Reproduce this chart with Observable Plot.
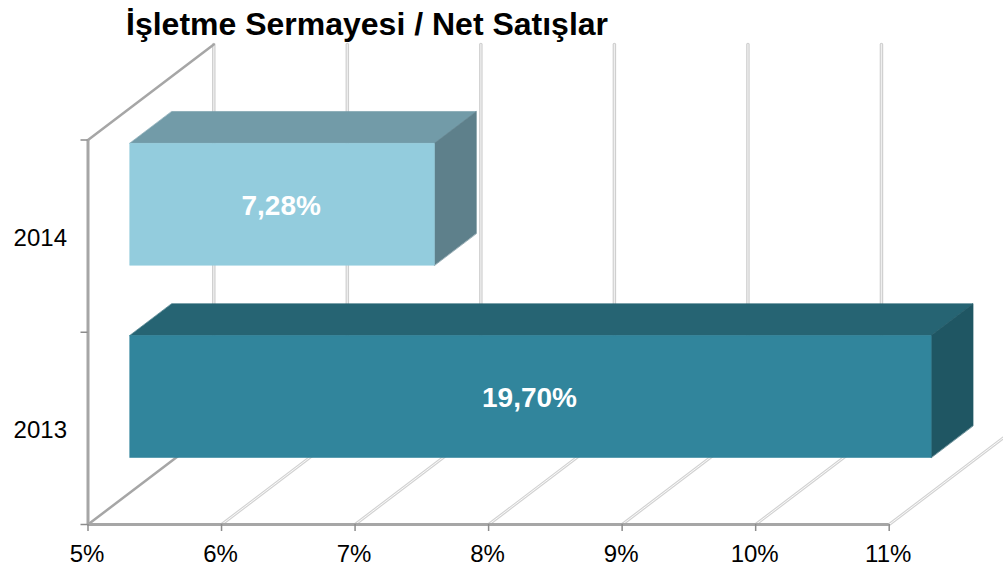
<!DOCTYPE html>
<html>
<head>
<meta charset="utf-8">
<script src="https://cdn.jsdelivr.net/npm/d3@7"></script>
<script src="https://cdn.jsdelivr.net/npm/@observablehq/plot@0.6"></script>
<style>
html,body{margin:0;padding:0;background:#fff;overflow:hidden}
#title{height:40px;box-sizing:border-box;padding:5px 0 0 126px;font:bold 32px "Liberation Sans",Arial,sans-serif;color:#000;line-height:40px;white-space:nowrap}
#title span{position:relative;top:-1px}
svg{display:block}
</style>
</head>
<body>
<div id="title"><span></span></div>
<div id="chart"></div>
<script>
const titleText = "İşletme Sermayesi / Net Satışlar";
const years = ["2013", "2014"];
const values = [19.70, 7.28];
const xTicks = [5, 6, 7, 8, 9, 10, 11];
const frontColors = ["#31859c", "#93ccdd"];
const topColors = ["#266473", "#729ba8"];
const sideColors = ["#1f5663", "#5e808b"];

const xMin = 5, xMax = 11, yCount = years.length;
const depthX = 0.942, depthY = 0.497;     // floor depth expressed in scale units
const barPad = 0.183, nearD = 1 / 3, farD = 2 / 3;
const px = (v, d) => v + d * depthX;
const py = (l, d) => l + d * depthY;

document.querySelector("#title span").textContent = titleText;

const faces = [];
years.forEach((yr, i) => {
  const shown = Math.min(values[i], xMax);
  const l0 = i + barPad, l1 = i + 1 - barPad;
  const add = (face, color, pts) => pts.forEach(([v, l, d]) =>
    faces.push({key: yr + face, color, x: px(v, d), y: py(l, d)}));
  add("top", topColors[i], [[xMin, l1, nearD], [shown, l1, nearD], [shown, l1, farD], [xMin, l1, farD]]);
  add("side", sideColors[i], [[shown, l0, nearD], [shown, l1, nearD], [shown, l1, farD], [shown, l0, farD]]);
  add("front", frontColors[i], [[xMin, l0, nearD], [shown, l0, nearD], [shown, l1, nearD], [xMin, l1, nearD]]);
});
const labels = years.map((yr, i) => ({
  text: values[i].toFixed(2).replace(".", ",") + "%",
  x: px((xMin + Math.min(values[i], xMax)) / 2, nearD),
  y: py(i + 0.5, nearD)
}));

// grid segments
const floor = xTicks.flatMap(v => [{k: v, x: px(v, 0), y: 0}, {k: v, x: px(v, 1), y: py(0, 1)}]);
const back = xTicks.flatMap(v => [{k: v, x: px(v, 1), y: py(0, 1)}, {k: v, x: px(v, 1), y: py(yCount, 1)}]);
const floorEdge = floor.filter(d => d.k === xMin);
const wallEdge = [{x: px(xMin, 0), y: yCount}, {x: px(xMin, 1), y: py(yCount, 1)}];
const F = "Liberation Sans, Arial, sans-serif";

const chart = Plot.plot({
  width: 1003, height: 526,
  marginLeft: 87.5, marginRight: 114.3, marginTop: 99.5, marginBottom: 42,
  x: {domain: [xMin, xMax], label: null},
  y: {domain: [0, yCount], label: null},
  color: {type: "identity"},
  style: {fontFamily: F, fontSize: "24px", background: "#fff", overflow: "hidden"},
  marks: [
    Plot.line(floor.filter(d => d.k !== xMin), {x: "x", y: "y", z: "k", stroke: "#d2d2d2", strokeWidth: 3}),
    Plot.line(floor.filter(d => d.k !== xMin), {x: "x", y: "y", z: "k", stroke: "#fafafa", strokeWidth: 1}),
    Plot.line(back, {x: "x", y: "y", z: "k", stroke: "#cfcfcf", strokeWidth: 3.5}),
    Plot.line(back, {x: "x", y: "y", z: "k", stroke: "#efefef", strokeWidth: 1.2}),
    Plot.line(floorEdge, {x: "x", y: "y", stroke: "#a6a6a6", strokeWidth: 2.5}),
    Plot.line(wallEdge, {x: "x", y: "y", stroke: "#a6a6a6", strokeWidth: 2.5}),
    Plot.line(faces, {x: "x", y: "y", z: "key", fill: "color", stroke: "color", strokeWidth: 0.6, curve: "linear-closed"}),
    Plot.ruleX([xMin], {y1: 0, y2: yCount, stroke: "#a6a6a6", strokeWidth: 3}),
    Plot.ruleY([0], {x1: xMin, x2: xMax, stroke: "#a6a6a6", strokeWidth: 3}),
    Plot.axisX({ticks: xTicks, tickSize: 7, color: "#8c8c8c", tickFormat: () => "", strokeWidth: 1.5, label: null}),
    Plot.axisX({ticks: xTicks, tickSize: 0, tickPadding: 20, dx: -1, color: "#000", tickFormat: d => d + "%", label: null}),
    Plot.axisY({ticks: d3.range(yCount + 1), tickSize: 7, color: "#8c8c8c", tickFormat: () => "", strokeWidth: 1.5, label: null}),
    Plot.axisY({ticks: years.map((_, i) => i + 0.5), tickSize: 0, tickPadding: 21, dy: 2, color: "#000", tickFormat: d => years[d - 0.5], label: null}),
    Plot.text(labels, {x: "x", y: "y", text: "text", fill: "#fff", fontSize: 28, fontWeight: "bold", dx: -1, dy: 2})
  ]
});
document.getElementById("chart").appendChild(chart);
</script>
</body>
</html>
